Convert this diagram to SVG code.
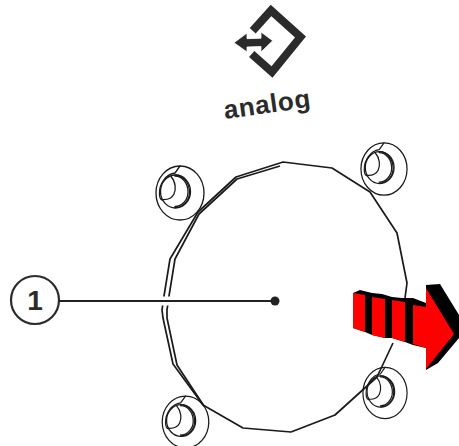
<svg xmlns="http://www.w3.org/2000/svg" width="459" height="446" viewBox="0 0 459 446">
<style>
.l{fill:none;stroke:#1a1a1a;stroke-width:1.3;stroke-linejoin:round;stroke-linecap:round}
.m{fill:none;stroke:#1a1a1a;stroke-width:1.7;stroke-linejoin:round}
.r{fill:#f00}
.k{fill:#000}
text{font-family:"Liberation Sans",Arial,sans-serif;fill:#2b2b2b}
</style>
<defs>
<g id="boss">
<ellipse cx="0" cy="0" rx="24" ry="27" class="l"/>
<ellipse cx="-4.500" cy="-1.500" rx="15" ry="16.500" class="l"/>
<path d="M-5-18C3-18 9.500-10 9.500-1 9.500 8 3 14.500-5 14.500" class="l"/>
<path d="M-5-17C2-17 8-10 8-1 8 7 2 13.500-5 13.500" class="l"/>
<path d="M-9-16.500C-4-11-4-3-6 1-8 5-12 7-18 6.500" class="l"/>
<path d="M0-27-5-20C-14-19-21-9-20.500 1-20.500 4-20 6-18 7" class="l"/>
</g>
</defs>
<g id="icon">
<path d="M252.700 30.700 271 10.500 300.500 37 272 72 251.700 54" fill="none" stroke="#2b2b2b" stroke-width="8"/>
<path d="M234 42.700 247 33 247 38.700 261 38.200 261 32 272.700 40.700 261 52 261 46.500 247 47 247 52Z" fill="#2b2b2b" stroke="#fff" stroke-width=".8"/>
</g>
<g id="label-analog"><text transform="translate(225 119) rotate(-8)" font-size="26" font-weight="bold" textLength="87">analog</text></g>
<g id="housing">
<path d="M280 163 236 177 198 212 170 259 164 296 162 310 163 318 173 364 203 405" class="m"/>
<path d="M280 166 237 179 199 214 175 259 169 296 167 310 167 318 177 365 204 406" class="m"/>
<path d="M280 163 283 162 332 168 370 192 397 233 407 283 405 298M393 343 377 377 335 415 291 432 243 428 203 405" class="m"/>
</g>
<g id="boss-tl"><use href="#boss" x="180" y="193"/></g>
<g id="boss-tr"><use href="#boss" transform="translate(384 169) scale(.96 .97)"/></g>
<g id="boss-bl"><use href="#boss" transform="translate(185.500 422) scale(.97 .96)"/></g>
<g id="boss-br"><use href="#boss" transform="translate(385 393) scale(.92 .95)"/></g>
<g id="arrow">
<path class="k" d="M353 293 360 290 372 293 382 294 392 297 402 298 413 298 426 303 426 285 440 284 459 315 459 338 438 363 426 370 426 348 413 345 405 342 392 338 385 338 372 335 365 332 353 328Z"/>
<path class="r" d="M353 293 365 295 365 332 353 328Z"/>
<path class="r" d="M372 297 385 299 385 338 372 335Z"/>
<path class="r" d="M392 300 405 302 405 342 392 338Z"/>
<path class="r" d="M413 305 426 307 426 288 454 334 426 369 426 348 413 344Z"/>
</g>
<g id="callout-1">
<circle cx="35" cy="300" r="24" fill="none" stroke="#2b2b2b" stroke-width="2.200"/>
<text x="35" y="310" font-size="28" font-weight="bold" text-anchor="middle">1</text>
</g>
<g id="connectors">
<path d="M60 301H275" stroke="#fff" stroke-width="9" fill="none"/>
<path d="M59 301H275" stroke="#222" stroke-width="2.200" fill="none"/>
<circle cx="275" cy="301" r="4.500" fill="#222"/>
</g>
</svg>
